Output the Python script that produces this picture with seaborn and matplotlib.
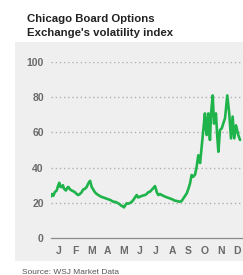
import numpy as np
import pandas as pd
import matplotlib
matplotlib.use('Agg')
import matplotlib.pyplot as plt
import seaborn as sns
from matplotlib.patches import Rectangle

sns.set_style('white')
plt.rcParams['font.family'] = ['Liberation Sans', 'DejaVu Sans']

# month position (0 = Jan 1, 12 = Dec 31) and index level
months = [0.00, 0.06, 0.16, 0.25, 0.37, 0.45, 0.53, 0.60, 0.68, 0.75, 0.82, 0.94,
          1.02, 1.09, 1.20, 1.30, 1.40, 1.50, 1.60, 1.70, 1.80, 1.91, 2.00, 2.12,
          2.22, 2.32, 2.43, 2.53, 2.63, 2.73, 2.84, 2.94, 3.10, 3.25, 3.40, 3.56,
          3.70, 3.86, 4.00, 4.17, 4.28, 4.38, 4.45, 4.52, 4.60, 4.69, 4.80, 4.90,
          5.00, 5.10, 5.20, 5.31, 5.40, 5.51, 5.65, 5.82, 5.92, 6.02, 6.13, 6.25,
          6.35, 6.44, 6.55, 6.64, 6.75, 6.85, 6.95, 7.06, 7.20, 7.36, 7.50, 7.67,
          7.80, 7.98, 8.08, 8.19, 8.30, 8.40, 8.50, 8.60, 8.70, 8.80, 8.91, 9.01,
          9.11, 9.22, 9.32, 9.42, 9.52, 9.58, 9.63, 9.68, 9.73, 9.78, 9.83, 9.90,
          10.00, 10.08, 10.14, 10.20, 10.28, 10.35, 10.45, 10.56, 10.65, 10.76, 10.90,
          11.02, 11.13, 11.23, 11.33, 11.44, 11.58, 11.69]
vix = [23.5, 25.0, 24.0, 26.0, 27.0, 29.5, 31.4, 29.0, 29.0, 30.0, 28.0, 27.0,
       28.5, 29.0, 27.5, 27.0, 26.5, 26.0, 25.0, 24.4, 25.0, 26.0, 27.5, 28.0,
       29.0, 31.0, 32.5, 29.0, 27.5, 26.0, 25.0, 24.4, 23.5, 23.0, 22.5, 22.0,
       21.5, 20.6, 20.5, 19.7, 19.0, 18.2, 18.0, 17.4, 18.5, 19.7, 19.5, 20.0,
       20.5, 21.6, 23.0, 24.4, 23.0, 23.5, 24.0, 24.4, 25.0, 26.0, 26.3, 27.5,
       28.5, 29.5, 26.0, 24.4, 25.0, 24.4, 24.0, 23.5, 23.0, 22.5, 22.0, 21.2,
       21.0, 20.6, 21.0, 22.5, 24.0, 25.4, 28.0, 31.0, 35.8, 34.8, 36.0, 40.5,
       47.0, 42.6, 51.9, 61.4, 70.8, 62.0, 58.5, 66.0, 70.8, 62.0, 55.7, 70.8,
       81.0, 65.0, 68.0, 70.8, 58.0, 49.0, 61.4, 62.3, 65.0, 68.0, 81.0,
       70.8, 56.6, 69.0, 56.6, 64.0, 58.5, 55.7]
month_labels = ['J', 'F', 'M', 'A', 'M', 'J', 'J', 'A', 'S', 'O', 'N', 'D']
y_ticks = [0, 20, 40, 60, 80, 100]

df = pd.DataFrame({'month': months, 'vix': vix})

W, H = 243, 275
fig = plt.figure(figsize=(W / 100, H / 100), dpi=100)
fig.patch.set_facecolor('white')

# grey panel behind the chart
fig.patches.append(Rectangle((15 / W, 1 - 261 / H), 1 - 15 / W, (261 - 42) / H,
                             transform=fig.transFigure, facecolor='#efefef',
                             edgecolor='none', zorder=-1))

ax = fig.add_axes([50.7 / W, 1 - 238 / H, 194.4 / W, (238 - 62) / H])
ax.set_facecolor('none')
ax.set_zorder(2)

sns.lineplot(data=df, x='month', y='vix', ax=ax, color='#1fb34b', linewidth=1.9)

ax.set_xlim(0, 12)
ax.set_ylim(0, 100)
for v in y_ticks[1:]:
    ax.axhline(v, color='#b0b0b0', linewidth=1.0, linestyle=(0, (1, 2)), zorder=0)

for s in ['top', 'right', 'left']:
    ax.spines[s].set_visible(False)
ax.spines['bottom'].set_color('#8a8a8a')
ax.spines['bottom'].set_linewidth(0.9)

ax.set_yticks(y_ticks)
ax.set_yticklabels([str(v) for v in y_ticks], fontweight='bold')
ax.tick_params(axis='y', length=0, pad=5, labelsize=7.5, labelcolor='#6a6a6a')

ax.set_xticks(range(0, 12))
ax.set_xticklabels([])
ax.set_xticks(np.arange(0.5, 12, 1), minor=True)
ax.set_xticklabels(month_labels, minor=True, fontweight='bold')
ax.tick_params(axis='x', which='major', length=3, width=0.8, color='#8a8a8a', direction='out')
ax.tick_params(axis='x', which='minor', length=0, pad=6, labelsize=7.5, labelcolor='#6a6a6a')
ax.set_xlabel('')
ax.set_ylabel('')

fig.text(27 / W, 1 - 19 / H, 'Chicago Board Options', fontsize=8.2, fontweight='bold',
         color='#222222', va='center', ha='left')
fig.text(27 / W, 1 - 32.5 / H, "Exchange's volatility index", fontsize=8.2, fontweight='bold',
         color='#222222', va='center', ha='left')
fig.text(22 / W, 1 - 272 / H, 'Source: WSJ Market Data', fontsize=6,
         color='#555555', va='center', ha='left')

fig.savefig('out.png', dpi=100)
